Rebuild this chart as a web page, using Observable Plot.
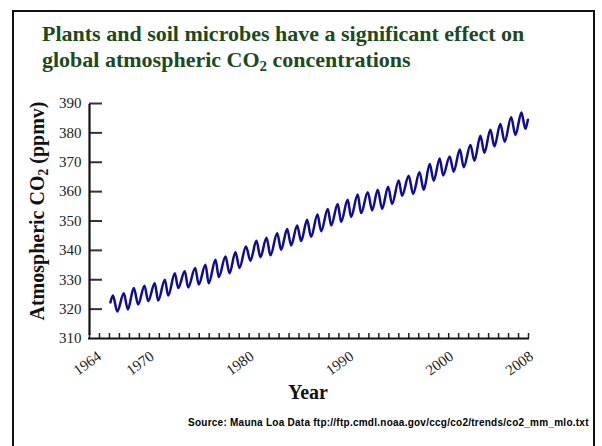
<!DOCTYPE html>
<html><head><meta charset="utf-8">
<script src="https://cdn.jsdelivr.net/npm/d3@7"></script>
<script src="https://cdn.jsdelivr.net/npm/@observablehq/plot@0.6"></script>
<style>
html,body{margin:0;padding:0;background:#fff;}
#wrap{position:relative;width:602px;height:446px;overflow:hidden;font-family:"Liberation Serif","Times New Roman",serif;}
#frame{position:absolute;left:12px;top:10px;width:583px;height:470px;border:2.5px solid #111;box-sizing:border-box;}
#title{position:absolute;left:42px;top:21px;font-weight:bold;font-size:22px;line-height:26px;color:#1c4a1c;white-space:nowrap;}
#title sub,#ylab sub{font-size:0.68em;vertical-align:-0.28em;line-height:0;}
#ylab{position:absolute;left:-113px;top:201px;width:300px;height:20px;line-height:20px;text-align:center;font-weight:bold;font-size:20px;color:#111;transform:rotate(-90deg);white-space:nowrap;}
#xlab{position:absolute;left:258px;top:381px;width:100px;text-align:center;font-weight:bold;font-size:20px;line-height:22px;color:#111;}
#src{position:absolute;left:188px;top:417px;font-family:"Liberation Sans",Arial,sans-serif;font-weight:bold;font-size:10px;line-height:12px;letter-spacing:0.25px;color:#000;white-space:nowrap;}
#chart{position:absolute;left:0;top:0;}
</style>
</head><body>
<div id="wrap">
  <div id="frame"></div>
  <div id="chart"></div>
  <div id="title">Plants and soil microbes have a significant effect on<br>global atmospheric CO<sub>2</sub> concentrations</div>
  <div id="ylab">Atmospheric CO<sub>2</sub> (ppmv)</div>
  <div id="xlab">Year</div>
  <div id="src">Source: Mauna Loa Data ftp://ftp.cmdl.noaa.gov/ccg/co2/trends/co2_mm_mlo.txt</div>
</div>
<script>
// Seasonal maxima (spring) and minima (autumn)
const startPoint = [1966.10, 322.3];
const endPoint = [2007.94, 384.5];
const peakYears = [1966.35,1967.44,1968.44,1969.51,1970.54,1971.55,1972.55,1973.55,1974.59,1975.62,
  1976.63,1977.63,1978.63,1979.68,1980.73,1981.74,1982.81,1983.81,1984.81,1985.81,
  1986.85,1987.88,1988.88,1989.88,1990.88,1991.89,1992.89,1993.93,1994.99,1995.99,
  1997.07,1998.10,1999.10,2000.10,2001.12,2002.18,2003.18,2004.18,2005.18,2006.26,2007.29];
const peakCO2 = [324.6,325.4,327.2,328.0,328.8,330.0,332.2,332.9,334.0,335.1,
  336.8,337.9,339.4,341.3,343.3,344.3,345.8,347.3,348.5,350.4,
  352.2,354.1,355.8,357.2,359.0,359.8,360.6,361.7,363.8,365.4,
  366.6,369.4,371.3,372.0,374.3,375.9,379.0,381.1,383.0,385.3,386.9];
const troughYears = [1966.78,1967.84,1968.88,1969.88,1970.88,1971.89,1972.89,1973.89,1974.95,1975.95,
  1976.96,1978.03,1979.03,1980.13,1981.13,1982.14,1983.21,1984.21,1985.21,1986.21,
  1987.22,1988.22,1989.22,1990.22,1991.22,1992.33,1993.33,1994.33,1995.33,1996.44,
  1997.50,1998.50,1999.44,2000.50,2001.51,2002.58,2003.58,2004.58,2005.61,2006.69,2007.69];
const troughCO2 = [319.2,319.9,321.6,322.7,322.9,324.6,327.2,327.4,328.4,328.8,
  330.9,332.2,334.0,336.5,337.7,338.3,340.2,341.7,343.2,344.6,
  346.5,348.5,349.7,351.4,352.7,353.6,354.1,355.8,358.6,359.2,
  360.6,363.7,365.5,366.8,368.3,370.5,373.2,375.4,377.0,379.3,381.4];
const yTicks = [310,320,330,340,350,360,370,380,390];
const xTickLabels = [1964,1970,1980,1990,2000,2008];
const xTickYears = d3.range(1964, 2009);

const series = [
  {year: startPoint[0], co2: startPoint[1]},
  ...peakYears.map((y, i) => ({year: y, co2: peakCO2[i]})),
  ...troughYears.map((y, i) => ({year: y, co2: troughCO2[i]})),
  {year: endPoint[0], co2: endPoint[1]}
].sort((a, b) => a.year - b.year);

const labelStyle = {x: d => d, y: 310, text: d => String(d), rotate: -36, textAnchor: "end", dy: 16, fontSize: 15, fill: "#222"};

const chart = Plot.plot({
  width: 602,
  height: 446,
  marginLeft: 89,
  marginRight: 74,
  marginTop: 103,
  marginBottom: 108,
  style: {fontFamily: "Liberation Serif, Times New Roman, serif", fontSize: "15px", color: "#222", background: "transparent"},
  x: {domain: [1964, 2008], axis: null},
  y: {domain: [310, 390]},
  marks: [
    Plot.axisY({ticks: yTicks, tickSize: 0, tickPadding: 8, label: null, fontSize: 15, fill: "#222"}),
    Plot.ruleY(yTicks.filter(d => d > 310), {y: d => d, x1: 1964, x2: 1964, insetRight: -13, stroke: "#333", strokeWidth: 2}),
    Plot.ruleX(xTickYears, {x: d => d, y1: 310, y2: 310, insetTop: -5, stroke: "#222", strokeWidth: 1.5}),
    Plot.ruleX([1964], {x: d => d, y1: 310, y2: 390, insetTop: -3, insetBottom: -1, stroke: "#111", strokeWidth: 2.2}),
    Plot.ruleY([310], {y: d => d, x1: 1964, x2: 2008, insetLeft: -1, insetRight: -1, stroke: "#111", strokeWidth: 2.2}),
    Plot.text(xTickLabels.slice(0, 1), {...labelStyle, dx: 10}),
    Plot.text(xTickLabels.slice(1), {...labelStyle, dx: 3}),
    Plot.line(series, {x: "year", y: "co2", curve: "monotone-x", stroke: "#0c0c96", strokeWidth: 2.5})
  ]
});
document.getElementById("chart").appendChild(chart);
</script>
</body></html>
